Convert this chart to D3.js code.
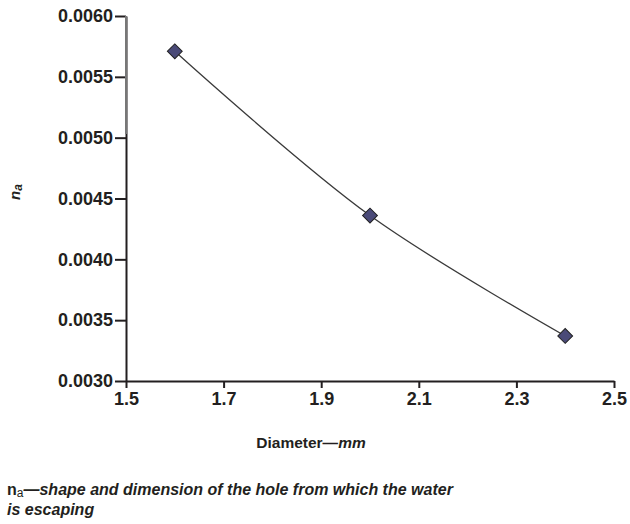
<!DOCTYPE html>
<html>
<head>
<meta charset="utf-8">
<script src="https://cdn.jsdelivr.net/npm/d3@7"></script>
<style>
  body { margin: 0; background: #fff; }
  svg { display: block; font-family: "Liberation Sans", Arial, sans-serif; }
</style>
</head>
<body>
<div id="wrapper"></div>
<script>
// Dados
const diameters = [1.6, 2.0, 2.4];
const naValues = [0.00571, 0.00436, 0.00337];
const xTicks = [1.5, 1.7, 1.9, 2.1, 2.3, 2.5];
const yTicks = [0.0030, 0.0035, 0.0040, 0.0045, 0.0050, 0.0055, 0.0060];
const xLabel = "Diameter—";
const xLabelUnit = "mm";
const footnoteLines = ["—shape and dimension of the hole from which the water", "is escaping"];

function draw() {
  const width = 630;
  const height = 524;
  const ink = "#231f20";

  const svg = d3.select("#wrapper")
    .append("svg")
    .attr("width", width)
    .attr("height", height);

  // Escalas
  const x = d3.scaleLinear().domain([1.5, 2.5]).range([126, 614]);
  const y = d3.scaleLinear().domain([0.0030, 0.0060]).range([381, 16]);

  // Eixo x
  const xAxis = svg.append("g")
    .attr("transform", "translate(0," + y(0.0030) + ")")
    .call(d3.axisBottom(x).tickValues(xTicks).tickFormat(d3.format(".1f"))
      .tickSizeInner(7).tickSizeOuter(0).tickPadding(4));
  xAxis.select(".domain").attr("stroke", ink).attr("stroke-width", 2);
  xAxis.selectAll(".tick line").attr("stroke", ink).attr("stroke-width", 2);
  xAxis.selectAll(".tick text")
    .attr("fill", ink)
    .attr("font-size", 18)
    .attr("font-weight", "bold");

  // Eixo y
  const yAxis = svg.append("g")
    .attr("transform", "translate(" + x(1.5) + ",0)")
    .call(d3.axisLeft(y).tickValues(yTicks).tickFormat(d3.format(".4f"))
      .tickSizeInner(11).tickSizeOuter(0).tickPadding(2));
  yAxis.select(".domain").attr("stroke", ink).attr("stroke-width", 2);
  yAxis.selectAll(".tick line").attr("stroke", ink).attr("stroke-width", 2);
  yAxis.selectAll(".tick text")
    .attr("fill", ink)
    .attr("font-size", 18)
    .attr("font-weight", "bold");

  // parte superior do eixo y aparece cinza no original
  svg.append("line")
    .attr("x1", x(1.5)).attr("x2", x(1.5))
    .attr("y1", y(0.0060)).attr("y2", y(0.00503))
    .attr("stroke", "#777")
    .attr("stroke-width", 2);

  // Linha suavizada
  const points = diameters.map((d, i) => [x(d), y(naValues[i])]);
  const line = d3.line().curve(d3.curveCatmullRom.alpha(0.5));
  svg.append("path")
    .attr("d", line(points))
    .attr("fill", "none")
    .attr("stroke", "#3a3a3a")
    .attr("stroke-width", 1.3);

  // Marcadores em losango
  svg.append("g")
    .selectAll("path")
    .data(points)
    .enter()
    .append("path")
    .attr("d", d3.symbol().type(d3.symbolSquare).size(110))
    .attr("transform", d => "translate(" + d[0] + "," + d[1] + ") rotate(45)")
    .attr("fill", "#4a4a78")
    .attr("stroke", "#222")
    .attr("stroke-width", 1);

  // Título do eixo y
  const yTitle = svg.append("text")
    .attr("transform", "translate(20,192) rotate(-90)")
    .attr("text-anchor", "middle")
    .attr("fill", ink)
    .attr("font-size", 15)
    .attr("font-weight", "bold")
    .attr("font-style", "italic");
  yTitle.append("tspan").text("n");
  yTitle.append("tspan").attr("font-size", 12).attr("dy", 2).text("a");

  // Título do eixo x
  const xTitle = svg.append("text")
    .attr("x", 311)
    .attr("y", 448)
    .attr("text-anchor", "middle")
    .attr("fill", ink)
    .attr("font-size", 15.5)
    .attr("font-weight", "bold");
  xTitle.append("tspan").text(xLabel);
  xTitle.append("tspan").attr("font-style", "italic").text(xLabelUnit);

  // Nota de rodapé
  const foot = svg.append("text")
    .attr("x", 7)
    .attr("y", 495)
    .attr("fill", ink)
    .attr("font-size", 16)
    .attr("font-weight", "bold");
  foot.append("tspan").text("n");
  foot.append("tspan").attr("font-size", 12).attr("dy", 2).attr("font-weight", "normal").text("a");
  foot.append("tspan").attr("dy", -2).attr("font-style", "italic").text(footnoteLines[0]);
  foot.append("tspan")
    .attr("x", 7)
    .attr("y", 515)
    .attr("font-style", "italic")
    .text(footnoteLines[1]);
}
draw();
</script>
</body>
</html>
